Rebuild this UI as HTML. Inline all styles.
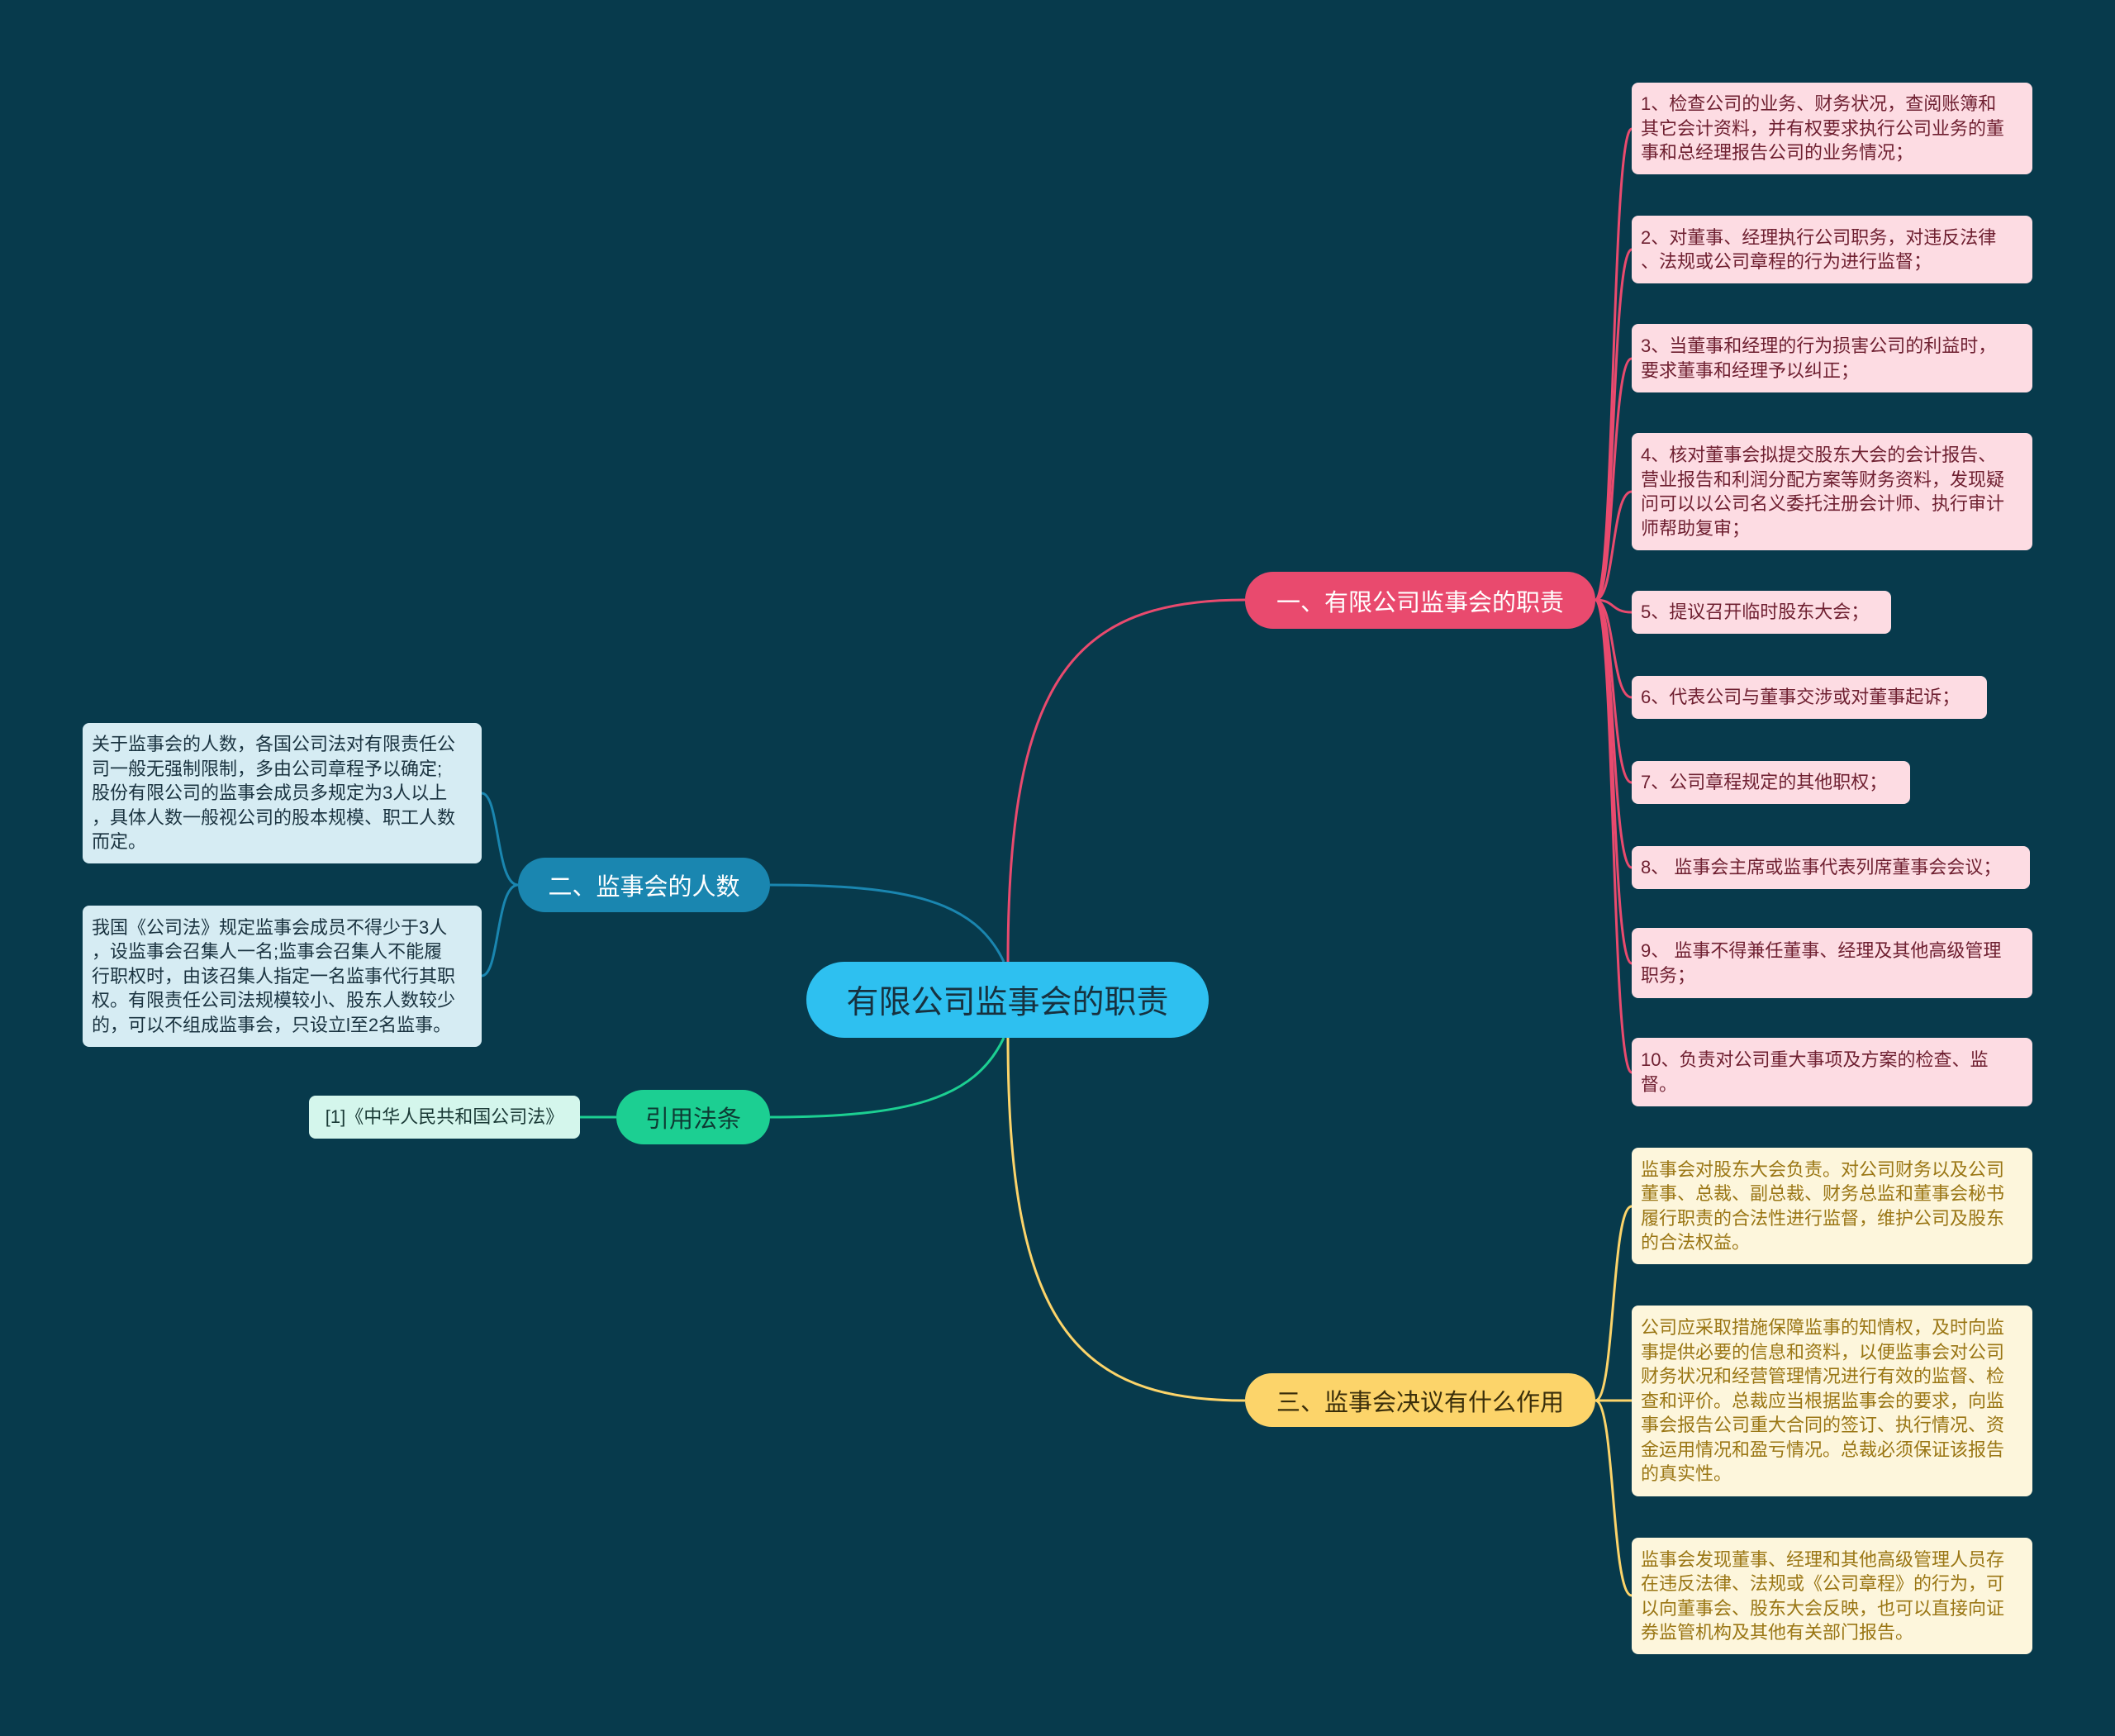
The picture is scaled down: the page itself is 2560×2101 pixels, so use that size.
<!DOCTYPE html>
<html><head><meta charset="utf-8"><style>
html,body{margin:0;padding:0}
body{width:2560px;height:2101px;background:#073a4c;position:relative;overflow:hidden;font-family:"Liberation Sans","Noto Sans CJK SC",sans-serif}
.n{position:absolute;box-sizing:border-box}
.main{left:976px;top:1164px;width:487px;height:92px;border-radius:46px;background:#2ec0f0;color:#17313f;font-size:39px;display:flex;align-items:center;justify-content:center}
.b{border-radius:34px;color:#fff;font-size:29px;display:flex;align-items:center;justify-content:center}
.l{border-radius:8px;font-size:22px;line-height:29.5px;padding:8px 29px 8px 11px;display:flex;align-items:center;line-break:anywhere}
.s{padding-right:6px;white-space:nowrap}
.p{background:#fddce3;color:#6e1f30}
.y{background:#fdf6dc;color:#9a7614}
.c{background:#d6ecf3;color:#1a3340}
</style></head><body>
<svg width="2560" height="2101" style="position:absolute;left:0;top:0">
<g fill="none" stroke-width="3">
<path d="M1220 1164 C1220 820 1300 726 1507 726" stroke="#e94a6e"/>
<path d="M1220 1256 C1220 1600 1300 1695 1507 1695" stroke="#fcd46a"/>
<path d="M1215 1164 C1180 1090 1100 1071 932 1071" stroke="#1a86b0"/>
<path d="M1215 1256 C1180 1330 1100 1352 932 1352" stroke="#1ccf92"/>
<path d="M702 1352 L746 1352" stroke="#1ccf92"/>
<g stroke="#e94a6e">
<path d="M1931 726 C1955 726 1950 156 1975 156"/>
<path d="M1931 726 C1955 726 1950 302 1975 302"/>
<path d="M1931 726 C1955 726 1950 434 1975 434"/>
<path d="M1931 726 C1955 726 1950 595 1975 595"/>
<path d="M1931 726 C1955 726 1950 741 1975 741"/>
<path d="M1931 726 C1955 726 1950 844 1975 844"/>
<path d="M1931 726 C1955 726 1950 947 1975 947"/>
<path d="M1931 726 C1955 726 1950 1050 1975 1050"/>
<path d="M1931 726 C1955 726 1950 1166 1975 1166"/>
<path d="M1931 726 C1955 726 1950 1298 1975 1298"/>
</g>
<g stroke="#fcd46a">
<path d="M1931 1695 C1955 1695 1950 1460 1975 1460"/>
<path d="M1931 1695 L1975 1695"/>
<path d="M1931 1695 C1955 1695 1950 1931 1975 1931"/>
</g>
<g stroke="#1a86b0">
<path d="M627 1071 C600 1071 605 960 583 960"/>
<path d="M627 1071 C600 1071 605 1181 583 1181"/>
</g>
</g></svg>
<div class="n main">有限公司监事会的职责</div>
<div class="n b" style="left:1507px;top:692px;width:424px;height:69px;background:#e94a6e">一、有限公司监事会的职责</div>
<div class="n b" style="left:627px;top:1038px;width:305px;height:66px;background:#1a86b0">二、监事会的人数</div>
<div class="n b" style="left:746px;top:1319px;width:186px;height:66px;background:#1ccf92;color:#0d3a33">引用法条</div>
<div class="n b" style="left:1507px;top:1662px;width:424px;height:65px;background:#fcd46a;color:#3a2e0a">三、监事会决议有什么作用</div>

<div class="n l p" style="left:1975px;top:100px;width:485px;height:111px">1、检查公司的业务、财务状况，查阅账簿和其它会计资料，并有权要求执行公司业务的董事和总经理报告公司的业务情况；</div>
<div class="n l p" style="left:1975px;top:261px;width:485px;height:82px">2、对董事、经理执行公司职务，对违反法律、法规或公司章程的行为进行监督；</div>
<div class="n l p" style="left:1975px;top:392px;width:485px;height:83px">3、当董事和经理的行为损害公司的利益时，要求董事和经理予以纠正；</div>
<div class="n l p" style="left:1975px;top:524px;width:485px;height:142px">4、核对董事会拟提交股东大会的会计报告、营业报告和利润分配方案等财务资料，发现疑问可以以公司名义委托注册会计师、执行审计师帮助复审；</div>
<div class="n l p s" style="left:1975px;top:715px;width:314px;height:52px">5、提议召开临时股东大会；</div>
<div class="n l p s" style="left:1975px;top:818px;width:430px;height:52px">6、代表公司与董事交涉或对董事起诉；</div>
<div class="n l p s" style="left:1975px;top:921px;width:337px;height:52px">7、公司章程规定的其他职权；</div>
<div class="n l p s" style="left:1975px;top:1024px;width:482px;height:52px">8、 监事会主席或监事代表列席董事会会议；</div>
<div class="n l p" style="left:1975px;top:1123px;width:485px;height:85px">9、 监事不得兼任董事、经理及其他高级管理职务；</div>
<div class="n l p" style="left:1975px;top:1256px;width:485px;height:83px">10、负责对公司重大事项及方案的检查、监<br>督。</div>

<div class="n l y" style="left:1975px;top:1389px;width:485px;height:141px">监事会对股东大会负责。对公司财务以及公司董事、总裁、副总裁、财务总监和董事会秘书履行职责的合法性进行监督，维护公司及股东的合法权益。</div>
<div class="n l y" style="left:1975px;top:1580px;width:485px;height:231px">公司应采取措施保障监事的知情权，及时向监事提供必要的信息和资料，以便监事会对公司财务状况和经营管理情况进行有效的监督、检查和评价。总裁应当根据监事会的要求，向监事会报告公司重大合同的签订、执行情况、资金运用情况和盈亏情况。总裁必须保证该报告的真实性。</div>
<div class="n l y" style="left:1975px;top:1861px;width:485px;height:141px">监事会发现董事、经理和其他高级管理人员存在违反法律、法规或《公司章程》的行为，可以向董事会、股东大会反映，也可以直接向证券监管机构及其他有关部门报告。</div>

<div class="n l c" style="left:100px;top:875px;width:483px;height:170px">关于监事会的人数，各国公司法对有限责任公司一般无强制限制，多由公司章程予以确定;股份有限公司的监事会成员多规定为3人以上，具体人数一般视公司的股本规模、职工人数而定。</div>
<div class="n l c" style="left:100px;top:1096px;width:483px;height:171px">我国《公司法》规定监事会成员不得少于3人，设监事会召集人一名;监事会召集人不能履行职权时，由该召集人指定一名监事代行其职权。有限责任公司法规模较小、股东人数较少的，可以不组成监事会，只设立l至2名监事。</div>
<div class="n l" style="left:374px;top:1326px;width:328px;height:52px;background:#d4f6ec;color:#1a3a36;justify-content:center;padding:8px;white-space:nowrap">[1]《中华人民共和国公司法》</div>
</body></html>
